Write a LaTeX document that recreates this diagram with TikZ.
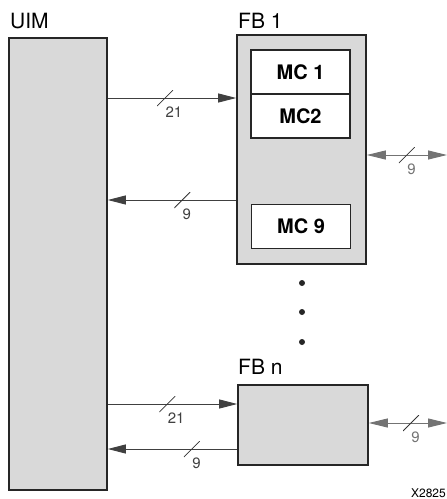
\documentclass[tikz,border=0pt]{standalone}
\usepackage{fontspec}
\setmainfont{TeX Gyre Heros}
\usetikzlibrary{arrows.meta}

\tikzset{
  title/.style={font=\fontsize{21}{24}\selectfont, inner sep=0pt, anchor=base west},
  num/.style={font=\fontsize{15}{18}\selectfont, inner sep=0pt},
  slash/.style={minimum size=16pt, inner sep=0pt, outer sep=0pt,
    path picture={\draw[-, line width=0.8pt, black!80]
      (path picture bounding box.south west) -- (path picture bounding box.north east);}},
  bits/.style={slash, label={[num, anchor=north west]below:#1}},
}

\begin{document}
\begin{tikzpicture}[x=1pt,y=-1pt]
      \useasboundingbox (0,0) rectangle (447,499);
      % blocks
      \begin{scope}[every node/.style={draw=black!85, line width=1.6pt, fill=gray!30, inner sep=0pt}]
        \node[minimum width=98pt, minimum height=452pt] (uim) at (58,264) {};
        \node[minimum width=129pt, minimum height=229pt] (fb1) at (301.5,149.5) {};
        \node[minimum width=130pt, minimum height=80pt] (fbn) at (303,425) {};
      \end{scope}
      \begin{scope}[every node/.style={draw=black!85, line width=1.2pt, fill=white, inner sep=0pt,
          minimum width=99pt, minimum height=44pt, font=\bfseries\fontsize{20}{24}\selectfont}]
        \node (mc1) at (300.5,72) {MC 1};
        \node (mc2) at (300.5,116) {MC2};
        \node (mc9) at (301,226.5) {MC 9};
      \end{scope}
      \node[title] (uimname) at (10,28) {UIM};
      \node[title] (fb1name) at (238,28) {FB 1};
      \node[title] (fbnname) at (238,374) {FB n};
      \node[anchor=base east, inner sep=0pt, font=\fontsize{12}{14}\selectfont] (figno) at (446,497) {X2825};
      \foreach \y in {283,312,342}
        \fill[black!85] (302,\y) circle (3pt);
      \coordinate (out1) at (447,155);
      \coordinate (outn) at (447,423);
      % buses
      \begin{scope}[every edge/.style={draw, line width=0.9pt, black!75, -{Triangle[length=18pt,width=9pt]}}]
        \path (uim.east |- 0,98) edge node[bits=21, pos=.446] {} (fb1.west |- 0,98);
        \path (fb1.west |- 0,200) edge node[bits=9, pos=.42] {} (uim.east |- 0,200);
        \path (uim.east |- 0,404) edge node[bits=21, pos=.46] {} (fbn.west |- 0,404);
        \path (fbn.west |- 0,449) edge node[bits=9, pos=.35] {} (uim.east |- 0,449);
      \end{scope}
      \begin{scope}[every edge/.style={draw, line width=0.9pt, black!55, {Triangle[length=19pt,width=9pt]}-{Triangle[length=19pt,width=9pt]}}]
        \path (fb1.east |- out1) edge node[bits=9, pos=.5] {} (out1);
        \path (fbn.east |- outn) edge node[bits=9, pos=.54] {} (outn);
      \end{scope}
\end{tikzpicture}
\end{document}
